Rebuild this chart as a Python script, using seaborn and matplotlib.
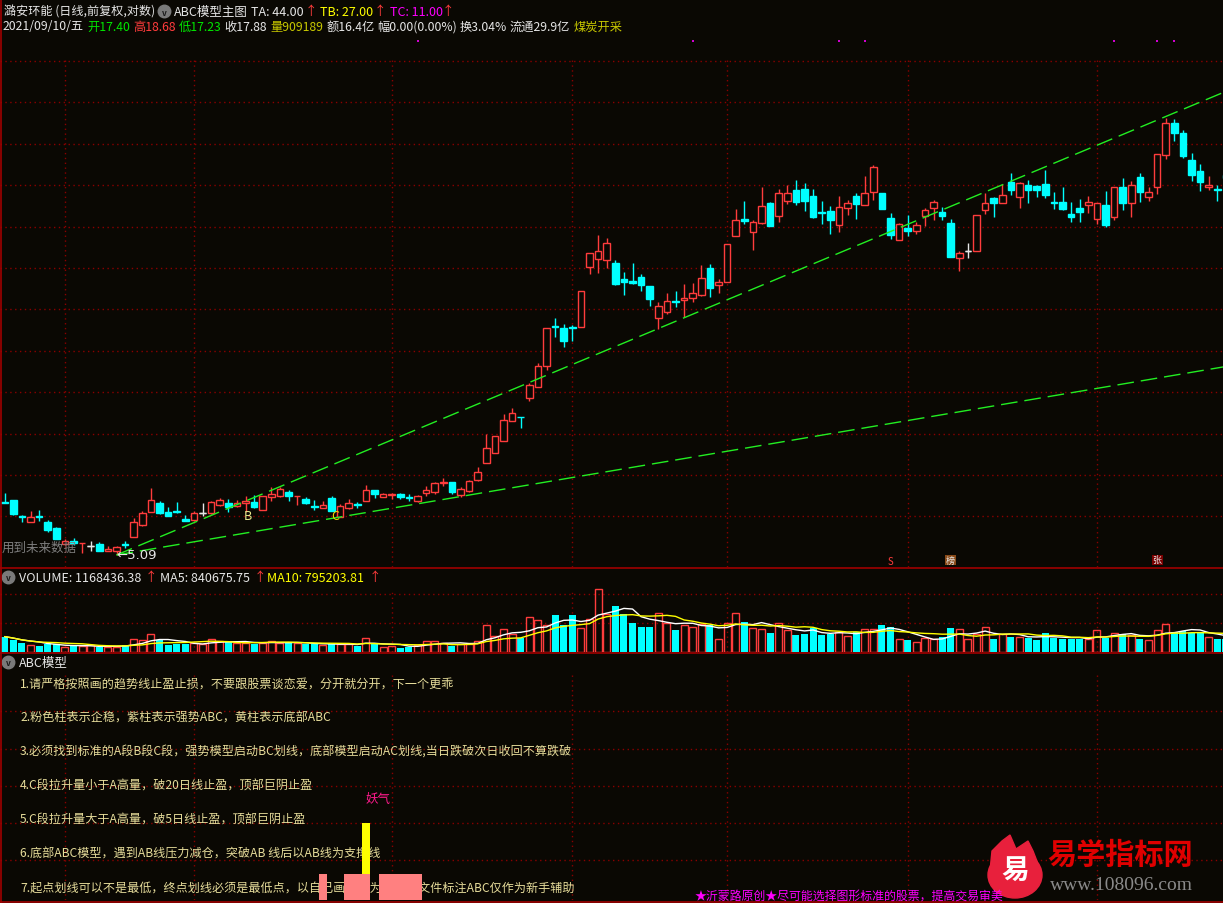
import numpy as np
import pandas as pd
import matplotlib.pyplot as plt
import seaborn as sns
from matplotlib.lines import Line2D
from matplotlib.patches import Ellipse, Polygon
from matplotlib.ticker import NullLocator
from matplotlib.transforms import blended_transform_factory

# 日K数据 (读图估计, 对数坐标)
opens = [5.96, 6.00, 5.72, 5.62, 5.72, 5.62, 5.52, 5.26, 5.31, 5.27,
         5.23, 5.26, 5.15, 5.15, 5.26, 5.37, 5.57, 5.78, 5.94, 5.78,
         5.80, 5.67, 5.65, 5.77, 5.77, 5.91, 5.94, 5.89, 5.94, 5.96,
         5.82, 6.05, 6.07, 6.14, 6.06, 6.01, 5.89, 5.85, 6.03, 5.70,
         5.85, 5.92, 5.97, 6.17, 6.05, 6.08, 6.10, 6.05, 5.97, 6.12,
         6.14, 6.30, 6.33, 6.09, 6.15, 6.37, 6.69, 6.90, 7.15, 7.58,
         7.68, 8.12, 8.39, 8.93, 10.06, 10.00, 10.03, 10.03, 11.99, 12.28,
         12.25, 12.14, 11.57, 11.50, 11.64, 11.33, 10.31, 10.49, 10.84, 10.87,
         10.94, 11.04, 11.96, 11.37, 11.47, 13.16, 13.84, 13.31, 13.67, 14.51,
         13.96, 14.60, 15.09, 15.13, 14.82, 14.11, 14.17, 13.59, 14.30, 14.82,
         14.42, 14.99, 14.95, 13.88, 13.00, 13.47, 13.35, 13.96, 14.30, 14.13,
         13.67, 12.32, 12.58, 12.58, 14.22, 14.73, 14.51, 15.45, 14.77, 15.31,
         15.27, 15.36, 14.56, 14.56, 14.04, 14.30, 14.42, 13.84, 14.42, 13.92,
         15.22, 14.51, 15.68, 14.77, 15.22, 16.74, 18.42, 17.88, 16.50, 15.96,
         15.22, 15.13, 15.78]
highs = [6.12, 6.00, 5.73, 5.80, 5.82, 5.65, 5.53, 5.33, 5.35, 5.28,
         5.31, 5.29, 5.23, 5.23, 5.31, 5.68, 5.80, 6.21, 5.97, 5.87,
         5.96, 5.73, 5.80, 5.94, 5.97, 6.03, 6.01, 6.00, 6.07, 6.09,
         6.07, 6.23, 6.23, 6.17, 6.07, 6.05, 6.00, 5.97, 6.07, 5.92,
         6.01, 5.96, 6.27, 6.17, 6.12, 6.12, 6.12, 6.10, 6.09, 6.25,
         6.33, 6.40, 6.33, 6.23, 6.37, 6.61, 7.30, 7.25, 7.74, 7.88,
         7.68, 8.49, 9.01, 10.00, 10.31, 10.12, 10.09, 11.17, 12.51, 13.19,
         13.08, 12.25, 11.82, 12.14, 11.75, 11.33, 10.81, 11.10, 11.17, 11.40,
         11.44, 12.07, 12.10, 11.57, 12.85, 14.26, 14.60, 13.80, 15.22, 14.56,
         15.13, 15.31, 15.54, 15.40, 15.13, 14.60, 14.38, 14.82, 14.64, 14.95,
         15.73, 16.25, 14.95, 14.09, 13.67, 14.00, 13.71, 14.30, 14.64, 14.34,
         13.84, 12.58, 12.88, 14.00, 14.95, 14.77, 15.36, 15.87, 15.45, 15.54,
         15.31, 16.01, 14.99, 15.22, 14.56, 14.69, 14.82, 14.51, 15.04, 15.22,
         15.63, 15.50, 15.87, 15.22, 16.79, 18.69, 18.64, 18.04, 16.84, 16.30,
         15.73, 15.31, 15.82]
lows = [5.94, 5.73, 5.62, 5.62, 5.63, 5.45, 5.34, 5.24, 5.24, 5.12,
        5.15, 5.15, 5.15, 5.09, 5.20, 5.37, 5.55, 5.78, 5.75, 5.72,
        5.77, 5.63, 5.63, 5.72, 5.75, 5.89, 5.78, 5.87, 5.78, 5.85,
        5.82, 5.97, 6.05, 5.97, 5.91, 5.92, 5.82, 5.85, 5.80, 5.70,
        5.84, 5.85, 5.97, 6.03, 6.05, 6.01, 6.01, 5.97, 5.96, 6.07,
        6.10, 6.25, 6.10, 6.05, 6.14, 6.35, 6.69, 6.90, 7.15, 7.58,
        7.43, 8.05, 8.39, 8.83, 9.74, 9.45, 9.62, 10.03, 11.75, 11.78,
        11.95, 11.37, 11.04, 11.40, 11.17, 10.68, 9.97, 10.43, 10.65, 10.34,
        10.81, 11.00, 10.97, 11.10, 11.47, 13.16, 13.63, 12.62, 13.63, 13.55,
        13.71, 14.47, 14.42, 14.17, 13.88, 13.63, 13.23, 13.31, 14.00, 13.84,
        14.42, 14.64, 14.26, 13.04, 13.00, 13.16, 13.23, 13.55, 13.80, 13.80,
        12.36, 11.85, 12.32, 12.58, 14.04, 13.92, 14.51, 14.86, 14.30, 14.51,
        14.77, 14.73, 14.26, 14.22, 13.71, 13.71, 14.09, 13.63, 13.51, 13.80,
        14.22, 13.92, 14.56, 14.60, 14.90, 16.55, 17.46, 16.60, 15.50, 15.04,
        15.09, 14.60, 15.59]
closes = [5.94, 5.75, 5.70, 5.70, 5.70, 5.48, 5.34, 5.31, 5.28, 5.28,
          5.23, 5.15, 5.18, 5.21, 5.24, 5.62, 5.77, 6.00, 5.77, 5.72,
          5.78, 5.63, 5.77, 5.77, 5.96, 6.00, 5.87, 5.94, 5.97, 5.87,
          6.07, 6.10, 6.19, 6.07, 6.07, 5.94, 5.87, 5.91, 5.80, 5.89,
          5.94, 5.90, 6.17, 6.10, 6.10, 6.10, 6.05, 6.03, 6.07, 6.17,
          6.31, 6.33, 6.14, 6.19, 6.35, 6.52, 7.00, 7.25, 7.61, 7.77,
          7.67, 8.44, 8.93, 10.00, 10.02, 9.62, 10.00, 11.17, 12.51, 12.58,
          12.88, 11.40, 11.47, 11.44, 11.37, 10.91, 10.68, 10.84, 10.81, 10.94,
          11.10, 11.60, 11.27, 11.47, 12.85, 13.80, 13.77, 13.71, 14.38, 13.55,
          14.95, 14.95, 14.56, 14.60, 13.92, 14.07, 13.80, 14.34, 14.51, 14.47,
          14.95, 16.15, 14.26, 13.19, 13.63, 13.35, 13.59, 14.22, 14.56, 13.96,
          12.36, 12.51, 12.58, 14.00, 14.51, 14.51, 14.86, 15.09, 15.40, 15.09,
          15.09, 14.86, 14.51, 14.26, 13.92, 14.13, 14.56, 14.51, 13.59, 15.22,
          14.51, 15.31, 14.99, 14.99, 16.79, 18.42, 17.88, 16.69, 15.78, 15.45,
          15.31, 15.09, 15.63]
# 成交量 (万手)
volumes = [77, 62, 43, 37, 32, 38, 40, 23, 28, 30,
           35, 25, 25, 27, 37, 65, 60, 90, 60, 37,
           38, 38, 45, 42, 65, 53, 50, 47, 47, 42,
           45, 55, 45, 47, 47, 38, 38, 37, 42, 40,
           40, 28, 70, 40, 25, 32, 22, 27, 35, 55,
           55, 45, 32, 42, 38, 57, 137, 82, 115, 88,
           70, 175, 160, 133, 187, 137, 183, 122, 163, 317,
           188, 232, 190, 147, 125, 127, 197, 147, 112, 137,
           125, 142, 133, 67, 147, 197, 152, 122, 117, 97,
           147, 112, 83, 88, 120, 83, 92, 100, 80, 102,
           117, 117, 137, 127, 67, 58, 52, 72, 67, 77,
           122, 117, 65, 92, 127, 67, 88, 77, 77, 72,
           62, 97, 72, 67, 63, 63, 67, 112, 72, 97,
           92, 87, 67, 62, 112, 142, 102, 107, 97, 102,
           77, 67, 65]

# 趋势线 (起点 5.09 低点)
upper_x, upper_y = [13, 142], [5.09, 20.23]
lower_x, lower_y = [13, 142], [5.09, 8.92]
abc_labels = ['B', 'C']
abc_x = [28.3, 38.4]
abc_y = [5.72, 5.72]
month_starts = [7, 22, 45, 66, 84, 105, 127]
signal_dots = [48, 80, 97, 100, 129, 134, 136]
event_idx = [103, 110, 134]
event_txt = ['S', '榜', '张']
pink_idx = [37, 40, 41, 42, 44, 45, 46, 47, 48]
pink_val = 10.6
yellow_idx, yellow_lo, yellow_hi = 42, 10.6, 31.3
notes = [
    '1.请严格按照画的趋势线止盈止损，不要跟股票谈恋爱，分开就分开，下一个更乖',
    '2.粉色柱表示企稳，紫柱表示强势ABC，黄柱表示底部ABC',
    '3.必须找到标准的A段B段C段，强势模型启动BC划线，底部模型启动AC划线,当日跌破次日收回不算跌破',
    '4.C段拉升量小于A高量，破20日线止盈，顶部巨阴止盈',
    '5.C段拉升量大于A高量，破5日线止盈，顶部巨阴止盈',
    '6.底部ABC模型，遇到AB线压力减仓，突破AB 线后以AB线为支撑线',
    '7.起点划线可以不是最低，终点划线必须是最低点，以自己画的线为主，本文件标注ABC仅作为新手辅助',
]

W, H = 1223, 904
BG = '#0a0803'
RED = '#ff3c3c'
CYAN = '#00ffff'
WHITE = '#e6e6e6'
GRID = '#8a0000'
FRAME = '#a00000'
DOT = (0, (1, 2.5))

sns.set_theme(style='dark', rc={'axes.facecolor': BG, 'figure.facecolor': BG})
plt.rcParams['font.family'] = ['Noto Sans CJK SC', 'DejaVu Sans']
plt.rcParams['axes.unicode_minus'] = False

fig = plt.figure(figsize=(W / 100, H / 100), dpi=100)


def fy(py):
    return 1 - py / H


def panel(top, bottom):
    ax = fig.add_axes([0, fy(bottom), 1, (bottom - top) / H])
    ax.set_facecolor(BG)
    for s in ax.spines.values():
        s.set_visible(False)
    ax.grid(False)
    return ax


def clean(ax):
    ax.set_xlim(-0.55, 141.66)
    ax.set_xlabel('')
    ax.set_ylabel('')
    ax.yaxis.set_minor_locator(NullLocator())
    ax.tick_params(which='both', left=False, bottom=False, labelleft=False, labelbottom=False)


def hgrid(ax, fracs):
    for f in fracs:
        ax.plot([0, 1], [f, f], transform=ax.transAxes, color=GRID, lw=1, ls=DOT, zorder=0)


def vgrid(ax, ymax):
    for i in month_starts:
        ax.axvline(i, ymin=0, ymax=ymax, color=GRID, lw=1, ls=DOT, zorder=0)


ax_k = panel(0, 568)
ax_v = panel(569, 653)
ax_a = panel(655, 901)

# ---- 主图 K线 ----
o, h, l, c = map(np.array, (opens, highs, lows, closes))
idx = np.arange(len(o))
col = np.where(c > o, RED, np.where(c < o, CYAN, WHITE))
face = np.where(c > o, BG, col)
ax_k.set_yscale('log')
ax_k.set_ylim(4.911, 26.63)
hgrid(ax_k, [1 - (62 + 41.4 * k) / 568 for k in range(12)])
vgrid(ax_k, 1 - 60 / 568)
ax_k.vlines(idx, l, h, colors=col, lw=1, zorder=2)
lo_b, hi_b = np.minimum(o, c), np.maximum(o, c)
ax_k.bar(idx, hi_b - lo_b, bottom=lo_b, width=0.76, color=face, edgecolor=col, linewidth=1, zorder=3)
flat = c == o
ax_k.hlines(o[flat], idx[flat] - 0.38, idx[flat] + 0.38, colors=WHITE, lw=1, zorder=3)

ax_k.plot(upper_x, upper_y, color='#22ee22', lw=1, ls=(0, (12, 5)), zorder=4)
ax_k.plot(lower_x, lower_y, color='#22ee22', lw=1, ls=(0, (12, 5)), zorder=4)
ax_k.text(abc_x[0], abc_y[0], abc_labels[0], color='#e8e88c', fontsize=9, ha='center', va='center', zorder=5)
ax_k.text(abc_x[1], abc_y[1], abc_labels[1], color='#f0dc00', fontsize=9, ha='center', va='center', zorder=5)
ax_k.text(13.0, 5.09, '←5.09', color=WHITE, fontsize=9.5, ha='left', va='center', zorder=5,
          family=['DejaVu Sans'])

trans = blended_transform_factory(ax_k.transData, ax_k.transAxes)
ax_k.scatter(signal_dots, [1 - 42 / 568] * len(signal_dots), transform=trans, s=3,
             marker='s', color='#d000d0', linewidths=0, zorder=5)
ax_k.text(event_idx[0], 1 - 562 / 568, event_txt[0], transform=trans, color=RED, fontsize=7,
          ha='center', va='center', zorder=5)
ax_k.text(event_idx[1], 1 - 561 / 568, event_txt[1], transform=trans, color=WHITE, fontsize=6.5,
          ha='center', va='center', zorder=5,
          bbox=dict(boxstyle='square,pad=0.1', fc='#8a4a18', ec='none'))
ax_k.text(event_idx[2], 1 - 561 / 568, event_txt[2], transform=trans, color=WHITE, fontsize=6.5,
          ha='center', va='center', zorder=5,
          bbox=dict(boxstyle='square,pad=0.1', fc='#7a0000', ec='none'))
clean(ax_k)

# ---- 成交量 ----
vol = pd.DataFrame({'idx': idx, 'vol': volumes, 'up': c >= o})
vol['ma5'] = vol['vol'].rolling(5, min_periods=1).mean()
vol['ma10'] = vol['vol'].rolling(10, min_periods=1).mean()
hgrid(ax_v, [(653 - 595) / 84, (653 - 624) / 84])
vgrid(ax_v, (653 - 591) / 84)
sns.barplot(data=vol[~vol['up']], x='idx', y='vol', native_scale=True, color=CYAN, saturation=1,
            width=0.8, errorbar=None, linewidth=0, ax=ax_v)
sns.barplot(data=vol[vol['up']], x='idx', y='vol', native_scale=True, color=RED, saturation=1,
            fill=False, width=0.8, errorbar=None, linewidth=1, ax=ax_v)
sns.lineplot(data=vol, x='idx', y='ma5', color='white', lw=1, errorbar=None, ax=ax_v)
sns.lineplot(data=vol, x='idx', y='ma10', color='#ffff00', lw=1, errorbar=None, ax=ax_v)
ax_v.set_ylim(0, 420)
clean(ax_v)

# ---- ABC模型 副图 ----
ax_a.set_ylim(0, 100)
hgrid(ax_a, [(901 - y) / 246 for y in (712, 750, 787, 824, 861)])
vgrid(ax_a, (901 - 676) / 246)
for k, s in enumerate(notes):
    ax_a.text(20 / W, fy(684 + 34 * k), s, transform=fig.transFigure, color='#e6dc9a',
              fontsize=8.7, va='center', ha='left', zorder=2)
ax_a.bar(pink_idx, pink_val, width=1.0, color='#ff8080', linewidth=0, zorder=3)
ax_a.bar([yellow_idx], yellow_hi - yellow_lo, bottom=yellow_lo, width=0.92, color='#ffff00',
         linewidth=0, zorder=3)
clean(ax_a)

# ---- 标题文字 ----
def ftxt(px, py, s, color=WHITE, size=9, **kw):
    return fig.text(px / W, fy(py), s, color=color, fontsize=size, va='center', ha='left', **kw)


def icon(px, py):
    fig.add_artist(Line2D([px / W], [fy(py)], marker='o', markersize=9, color='#7a7a7a',
                          transform=fig.transFigure))
    fig.text(px / W, fy(py + 1), 'v', color='#1a1a1a', fontsize=6, ha='center', va='center',
             weight='bold')


ftxt(4, 12, '潞安环能 (日线,前复权,对数)', size=8.7)
icon(164, 12)
ftxt(174, 12, 'ABC模型主图')
ftxt(251, 12, 'TA: 44.00')
ftxt(305, 12, '↑', RED)
ftxt(320, 12, 'TB: 27.00', '#ffff00')
ftxt(374, 12, '↑', RED)
ftxt(390, 12, 'TC: 11.00', '#ff00ff')
ftxt(442, 12, '↑', RED)

# 第二行行情: 依次排布, 缩放到参考宽度 (3 ~ 622 px)
quote = [('2021/09/10/五', WHITE), ('开17.40', '#00e600'), ('高18.68', RED),
         ('低17.23', '#00e600'), ('收17.88', WHITE), ('量909189', '#c8c800'),
         ('额16.4亿', WHITE), ('幅0.00(0.00%)', WHITE), ('换3.04%', WHITE),
         ('流通29.9亿', WHITE), ('煤炭开采', '#c8c800')]
renderer = fig.canvas.get_renderer()
qt = [ftxt(0, 27, s, cl) for s, cl in quote]
qw = [t.get_window_extent(renderer).width for t in qt]
gap = 3
scale = min(1.0, (622 - 3 - gap * (len(qt) - 1)) / sum(qw))
x = 3
for t, w in zip(qt, qw):
    t.set_fontsize(9 * scale)
    t.set_x(x / W)
    x += w * scale + gap

icon(8, 578)
ftxt(19, 578, 'VOLUME: 1168436.38')
ftxt(145, 578, '↑', RED)
ftxt(160, 578, 'MA5: 840675.75')
ftxt(254, 578, '↑', RED)
ftxt(267, 578, 'MA10: 795203.81', '#ffff00')
ftxt(369, 578, '↑', RED)

icon(8, 663)
ftxt(19, 663, 'ABC模型')

ftxt(2, 548, '用到未来数据', '#7f7f7f')
ftxt(366, 800, '妖气', '#ff1a8c')
ftxt(695, 896, '★沂蒙路原创★尽可能选择图形标准的股票，提高交易审美', '#ff00ff', 8.6)

# 水印
flame = [(990, 872), (992, 852), (1002, 842), (1010, 836), (1016, 850), (1028, 842),
         (1033, 852), (1040, 870)]
fig.add_artist(Polygon([(x / W, fy(y)) for x, y in flame], closed=True, color='#e8203c',
                       transform=fig.transFigure))
fig.add_artist(Ellipse((1015 / W, fy(876)), 54 / W, 46 / H, color='#e8203c', transform=fig.transFigure))
fig.text(1015 / W, fy(872), '易', color='white', fontsize=20, ha='center', va='center', weight='bold')
ftxt(1047, 855, '易学指标网', '#e00000', 21, weight='bold')
ftxt(1050, 886, 'www.108096.com', '#8a8a8a', 14, family=['Liberation Serif'])

# 边框
for py in (568.5, 653.5, 902.5):
    fig.add_artist(Line2D([0, 1], [fy(py)] * 2, color=FRAME, lw=1.2, transform=fig.transFigure))
fig.add_artist(Line2D([0.6 / W] * 2, [0, 1], color=FRAME, lw=1.2, transform=fig.transFigure))

fig.savefig('out.png', dpi=100, facecolor=BG)
